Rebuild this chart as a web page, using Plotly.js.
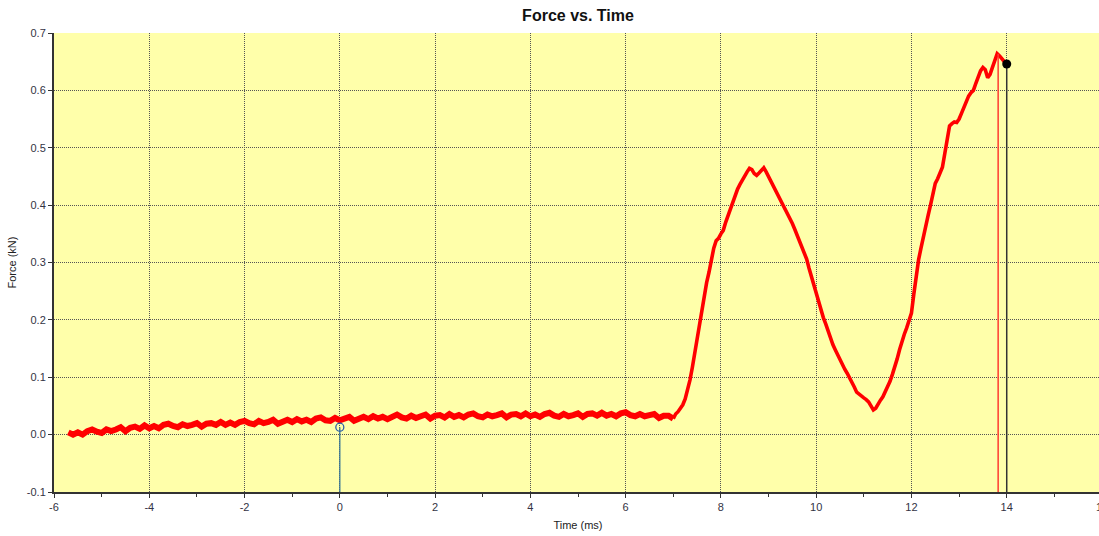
<!DOCTYPE html>
<html>
<head>
<meta charset="utf-8">
<script src="https://cdn.plot.ly/plotly-3.0.1.min.js"></script>
<style>
html,body{margin:0;padding:0;overflow:hidden;background:#fff;}
#chart{width:1112px;height:536px;}
</style>
</head>
<body>
<div id="chart"></div>
<script>
// Pre-impact (quiet) part of the force trace
const quietTimeMs = [
-5.7,-5.6,-5.5,-5.4,-5.3,-5.2,-5.1,-5.0,-4.9,-4.8,-4.7,-4.6,-4.5,-4.4,-4.3,-4.2,-4.1,-4.0,
-3.9,-3.8,-3.7,-3.6,-3.5,-3.4,-3.3,-3.2,-3.1,-3.0,-2.9,-2.8,-2.7,-2.6,-2.5,-2.4,-2.3,-2.2,-2.1,-2.0,
-1.9,-1.8,-1.7,-1.6,-1.5,-1.4,-1.3,-1.2,-1.1,-1.0,-0.9,-0.8,-0.7,-0.6,-0.5,-0.4,-0.3,-0.2,-0.1,0.0,
0.1,0.2,0.3,0.4,0.5,0.6,0.7,0.8,0.9,1.0,1.1,1.2,1.3,1.4,1.5,1.6,1.7,1.8,1.9,2.0,
2.1,2.2,2.3,2.4,2.5,2.6,2.7,2.8,2.9,3.0,3.1,3.2,3.3,3.4,3.5,3.6,3.7,3.8,3.9,4.0,
4.1,4.2,4.3,4.4,4.5,4.6,4.7,4.8,4.9,5.0,5.1,5.2,5.3,5.4,5.5,5.6,5.7,5.8,5.9,6.0,
6.1,6.2,6.3,6.4,6.5,6.6,6.7,6.8,6.9,7.0
];
const quietForceKN = [
0.004,0.000,0.004,0.000,0.006,0.009,0.005,0.003,0.009,0.006,0.009,0.013,0.006,0.012,0.014,0.010,0.016,0.011,
0.015,0.011,0.017,0.019,0.015,0.013,0.018,0.015,0.017,0.020,0.014,0.019,0.020,0.017,0.022,0.017,0.021,0.017,0.022,0.024,
0.020,0.018,0.024,0.020,0.022,0.026,0.019,0.024,0.026,0.022,0.027,0.023,0.026,0.022,0.028,0.030,0.025,0.024,0.029,0.025,
0.027,0.031,0.024,0.029,0.031,0.027,0.032,0.028,0.031,0.027,0.032,0.035,0.030,0.028,0.033,0.029,0.032,0.035,0.028,0.033,
0.034,0.030,0.036,0.031,0.034,0.030,0.035,0.037,0.032,0.030,0.035,0.032,0.034,0.037,0.030,0.035,0.036,0.032,0.037,0.032,
0.035,0.031,0.036,0.038,0.033,0.031,0.036,0.032,0.034,0.037,0.031,0.036,0.037,0.033,0.038,0.033,0.036,0.032,0.037,0.039,
0.034,0.032,0.036,0.032,0.034,0.036,0.029,0.033,0.033,0.028
];
// Impact part of the force trace
const impactTimeMs = [
7.0,7.05,7.1,7.15,7.2,7.25,7.3,7.35,7.4,7.45,7.5,7.55,7.6,7.65,7.7,7.75,7.8,7.85,7.9,7.95,8.0,
8.05,8.1,8.15,8.2,8.25,8.3,8.35,8.4,8.45,8.5,8.55,8.6,8.65,8.7,8.75,8.8,8.85,8.9,8.95,9.0,
9.05,9.1,9.15,9.2,9.25,9.3,9.35,9.4,9.45,9.5,9.55,9.6,9.65,9.7,9.75,9.8,9.85,9.9,9.95,10.0,
10.05,10.1,10.15,10.2,10.25,10.3,10.35,10.4,10.45,10.5,10.55,10.6,10.65,10.7,10.75,10.8,10.85,10.9,10.95,11.0,
11.05,11.1,11.15,11.2,11.25,11.3,11.35,11.4,11.45,11.5,11.55,11.6,11.65,11.7,11.75,11.8,11.85,11.9,11.95,12.0,
12.05,12.1,12.15,12.2,12.25,12.3,12.35,12.4,12.45,12.5,12.55,12.6,12.65,12.7,12.75,12.8,12.85,12.9,12.95,13.0,
13.05,13.1,13.15,13.2,13.25,13.3,13.35,13.4,13.45,13.5,13.55,13.6,13.65,13.7,13.75,13.8,13.85,13.9,13.95,14.0
];
const impactForceKN = [
0.028,0.036,0.040,0.046,0.052,0.062,0.076,0.095,0.117,0.142,0.170,0.198,0.222,0.245,0.265,0.283,0.305,0.325,0.338,0.342,0.350,
0.356,0.370,0.382,0.396,0.408,0.420,0.428,0.436,0.444,0.452,0.458,0.464,0.462,0.455,0.452,0.456,0.460,0.465,0.458,0.450,
0.440,0.432,0.424,0.418,0.410,0.402,0.395,0.386,0.378,0.368,0.358,0.348,0.338,0.328,0.317,0.306,0.290,0.275,0.260,0.245,
0.230,0.215,0.204,0.193,0.180,0.168,0.157,0.148,0.139,0.130,0.122,0.114,0.107,0.100,0.090,0.083,0.074,0.070,0.068,0.064,
0.061,0.057,0.050,0.043,0.046,0.054,0.060,0.066,0.074,0.082,0.093,0.105,0.117,0.132,0.148,0.163,0.175,0.186,0.198,0.212,
0.245,0.280,0.305,0.325,0.342,0.362,0.382,0.400,0.422,0.438,0.446,0.456,0.466,0.490,0.515,0.538,0.542,0.545,0.544,0.550,
0.560,0.570,0.582,0.590,0.596,0.600,0.612,0.624,0.634,0.640,0.636,0.622,0.628,0.640,0.652,0.664,0.660,0.654,0.650,0.646
];
// Cursors
const startCursorT = [0, 0];
const startCursorF = [-0.1, 0.013];
const peakCursorT = [13.82, 13.82];
const peakCursorF = [-0.1, 0.664];
const endCursorT = [14.0, 14.0];
const endCursorF = [-0.1, 0.646];

const xTickVals = [-6,-4,-2,0,2,4,6,8,10,12,14,16];
const xTickText = ['-6','-4','-2','0','2','4','6','8','10','12','14','16'];
const xMinorVals = [-5,-3,-1,1,3,5,7,9,11,13,15];
const yTickVals = [-0.1,0,0.1,0.2,0.3,0.4,0.5,0.6,0.7];
const yTickText = ['-0.1','0.0','0.1','0.2','0.3','0.4','0.5','0.6','0.7'];

const traces = [
  {x: quietTimeMs, y: quietForceKN, type: 'scatter', mode: 'lines',
   line: {color: '#ff0000', width: 6}, hoverinfo: 'skip'},
  {x: impactTimeMs, y: impactForceKN, type: 'scatter', mode: 'lines',
   line: {color: '#ff0000', width: 3.6}, hoverinfo: 'skip'},
  {x: startCursorT, y: startCursorF, type: 'scatter', mode: 'lines',
   line: {color: '#3a7896', width: 1.3}, hoverinfo: 'skip'},
  {x: [startCursorT[1]], y: [startCursorF[1]], type: 'scatter', mode: 'markers',
   marker: {symbol: 'circle-open', size: 8, color: '#2b5fa8', line: {width: 1.3, color: '#2b5fa8'}}},
  {x: peakCursorT, y: peakCursorF, type: 'scatter', mode: 'lines',
   line: {color: '#ff3b30', width: 1.5}, hoverinfo: 'skip'},
  {x: endCursorT, y: endCursorF, type: 'scatter', mode: 'lines',
   line: {color: '#333333', width: 1.5}, hoverinfo: 'skip'},
  {x: [endCursorT[1]], y: [endCursorF[1]], type: 'scatter', mode: 'markers',
   marker: {symbol: 'circle', size: 9, color: '#000000'}}
];

const fontFam = 'Arial, "Liberation Sans", sans-serif';
const layout = {
  width: 1112, height: 536,
  margin: {l: 54, r: 10, t: 33, b: 44},
  paper_bgcolor: '#ffffff',
  plot_bgcolor: '#ffffaa',
  showlegend: false,
  font: {family: fontFam, size: 11, color: '#333344'},
  title: {text: '<b>Force vs. Time</b>', font: {family: fontFam, size: 16, color: '#111111'},
          x: 0.5, xref: 'paper', y: 0.972, yref: 'container', yanchor: 'middle'},
  xaxis: {
    range: [-6, 16], tickmode: 'array', tickvals: xTickVals, ticktext: xTickText,
    ticklabeloverflow: 'allow',
    showgrid: true, gridcolor: '#555555', gridwidth: 1, griddash: '1px,1px',
    zeroline: false, showline: true, linecolor: '#333333', linewidth: 2,
    ticks: 'outside', ticklen: 4, tickcolor: '#333333',
    minor: {tickmode: 'array', tickvals: xMinorVals, ticks: 'outside', ticklen: 3, tickcolor: '#333333', showgrid: false},
    tickfont: {size: 11, color: '#333344'},
    title: {text: 'Time (ms)', font: {size: 11, color: '#222222'}, standoff: 9}
  },
  yaxis: {
    range: [-0.1, 0.7], tickmode: 'array', tickvals: yTickVals, ticktext: yTickText,
    showgrid: true, gridcolor: '#555555', gridwidth: 1, griddash: '1px,1px',
    zeroline: false, showline: true, linecolor: '#333333', linewidth: 2,
    ticks: 'outside', ticklen: 4, tickcolor: '#333333',
    tickfont: {size: 11, color: '#333344'},
    title: {text: 'Force (kN)', font: {size: 11, color: '#222222'}, standoff: 8}
  }
};

Plotly.newPlot('chart', traces, layout, {displayModeBar: false, staticPlot: true});
</script>
</body>
</html>
